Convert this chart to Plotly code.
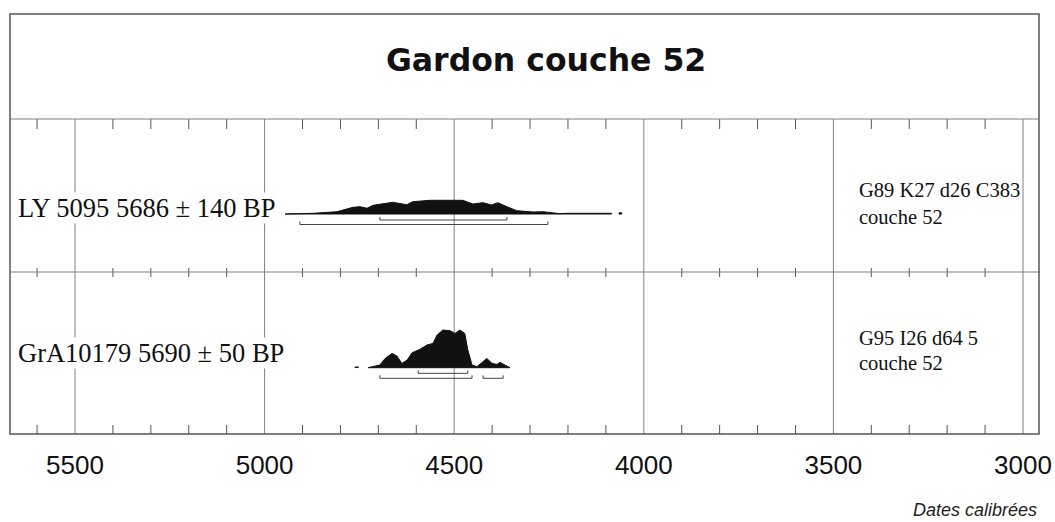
import plotly.graph_objects as go

# ---------------- data ----------------
title_text = "Gardon couche 52"
sample_labels = ["LY 5095 5686 ± 140 BP", "GrA10179 5690 ± 50 BP"]
sample_notes = [["G89 K27 d26 C383", "couche 52"], ["G95 I26 d64 5", "couche 52"]]
axis_title = "Dates calibrées"
major_ticks = [5500, 5000, 4500, 4000, 3500, 3000]
minor_ticks = [5600, 5400, 5300, 5200, 5100, 4900, 4800, 4700, 4600, 4400, 4300,
               4200, 4100, 3900, 3800, 3700, 3600, 3400, 3300, 3200, 3100]

# calibrated probability profile (cal BP, relative density)
ly_years = [4946, 4872, 4809, 4767, 4748, 4730, 4714, 4688, 4662, 4625, 4609, 4564,
            4503, 4477, 4451, 4424, 4401, 4385, 4361, 4335, 4292, 4266, 4221,
            4203, 4085]
ly_dens = [0.0, 0.7, 2.3, 6.7, 7.3, 5.7, 8.7, 10.0, 11.7, 9.3, 12.3, 13.7,
           14.0, 13.7, 10.0, 11.3, 9.0, 11.3, 7.3, 3.3, 2.0, 2.3, 0.3,
           0.7, 0.7]
ly_dot = [4066, 4058]
ly_dot_dens = [1.2, 1.2]
ly_ranges = [[4696, 4361], [4907, 4253]]

gra_dash = [4762, 4752]
gra_dash_dens = [0.6, 0.6]
gra_years = [4727, 4696, 4682, 4664, 4651, 4638, 4624, 4611, 4591, 4572, 4556, 4545,
             4530, 4511, 4498, 4485, 4472, 4464, 4453, 4440, 4424, 4414, 4400,
             4387, 4379, 4366, 4353]
gra_dens = [0.0, 2.7, 9.3, 14.3, 11.7, 4.3, 7.7, 15.0, 18.3, 22.7, 24.3, 32.7,
            37.7, 37.0, 34.3, 37.7, 34.3, 17.7, 2.7, 1.0, 6.0, 9.3, 4.3,
            3.3, 5.3, 2.7, 0.0]
gra_ranges = [[4595, 4464], [4696, 4453], [4424, 4371]]

# ---------------- layout constants ----------------
X_LEFT, X_RIGHT = 5671.4, 2957.8
Y_TOP = 420
TITLE_BOTTOM = 315
ROW_SEP = 162
ROW_BASE = [220, 66.3]
BRACKET_Y = [[214, 209.5], [60.7, 55.7, 55.7]]
BRACKET_TICK = 3
GRID = "#808080"
BORDER = "#555555"
FILL = "#111111"

fig = go.Figure()


def profile(xs, ds, base):
    px = list(xs) + list(xs)[::-1]
    py = [base + d for d in ds] + [base] * len(xs)
    return px, py


def add_fill(xs, ds, base):
    px, py = profile(xs, ds, base)
    fig.add_trace(go.Scatter(x=px, y=py, fill="toself", fillcolor=FILL, mode="lines",
                             line=dict(color=FILL, width=1), hoverinfo="skip",
                             showlegend=False))


add_fill(ly_years, ly_dens, ROW_BASE[0])
add_fill(ly_dot, ly_dot_dens, ROW_BASE[0])
add_fill(gra_dash, gra_dash_dens, ROW_BASE[1])
add_fill(gra_years, gra_dens, ROW_BASE[1])

# brackets for ranges
for ranges, ys in [(ly_ranges, BRACKET_Y[0]), (gra_ranges, BRACKET_Y[1])]:
    bx, by = [], []
    for (a, b), yv in zip(ranges, ys):
        bx += [a, a, b, b, None]
        by += [yv + BRACKET_TICK, yv, yv, yv + BRACKET_TICK, None]
    fig.add_trace(go.Scatter(x=bx, y=by, mode="lines", line=dict(color="#444444", width=1),
                             hoverinfo="skip", showlegend=False))

# minor tick marks
tx, ty = [], []
for t in minor_ticks:
    tx += [t, t, None, t, t, None, t, t, None]
    ty += [TITLE_BOTTOM, TITLE_BOTTOM - 10, None, ROW_SEP + 4, ROW_SEP - 5, None, 0, 9, None]
fig.add_trace(go.Scatter(x=tx, y=ty, mode="lines", line=dict(color=BORDER, width=1),
                         hoverinfo="skip", showlegend=False))

shapes = []
for t in major_ticks:
    shapes.append(dict(type="line", xref="x", yref="y", x0=t, x1=t, y0=0, y1=TITLE_BOTTOM,
                       line=dict(color=GRID, width=1), layer="below"))
for yv in [TITLE_BOTTOM, ROW_SEP]:
    shapes.append(dict(type="line", xref="paper", yref="y", x0=0, x1=1, y0=yv, y1=yv,
                       line=dict(color=GRID, width=1.2)))
shapes.append(dict(type="rect", xref="paper", yref="paper", x0=0, x1=1, y0=0, y1=1,
                   line=dict(color=BORDER, width=1.5)))

annotations = [
    dict(text="<b>" + title_text + "</b>", xref="paper", yref="y", x=0.521, y=374,
         showarrow=False, font=dict(family="DejaVu Sans, Arial", size=31.5, color="#111"),
         xanchor="center", yanchor="middle"),
    dict(text="<i>" + axis_title + "</i>", xref="paper", yref="paper", x=1.0, y=-0.181,
         showarrow=False, font=dict(family="Liberation Sans, Arial", size=18, color="#222"),
         xanchor="right", yanchor="middle"),
]
label_y = [226, 81]
for lab, yv in zip(sample_labels, label_y):
    annotations.append(dict(text=lab, xref="paper", yref="y", x=7 / 1029, y=yv,
                            showarrow=False, bgcolor="white", borderpad=0,
                            font=dict(family="Liberation Serif, Times New Roman", size=26.5,
                                      color="#111"),
                            xanchor="left", yanchor="middle"))
note_y = [[244, 217], [96, 71]]
for lines, ys in zip(sample_notes, note_y):
    for line, yv in zip(lines, ys):
        annotations.append(dict(text=line, xref="paper", yref="y", x=847 / 1029, y=yv,
                                showarrow=False,
                                font=dict(family="Liberation Serif, Times New Roman",
                                          size=20.5, color="#111"),
                                xanchor="left", yanchor="middle"))

fig.update_layout(
    width=1055, height=522, autosize=False,
    margin=dict(l=10, r=16, t=14, b=88, autoexpand=False),
    paper_bgcolor="white", plot_bgcolor="white",
    shapes=shapes, annotations=annotations,
    xaxis=dict(range=[X_LEFT, X_RIGHT], tickvals=major_ticks, automargin=False,
               ticktext=[str(v) for v in major_ticks],
               ticks="outside", ticklen=8, tickcolor="rgba(0,0,0,0)",
               tickfont=dict(family="Liberation Sans Narrow, Arial Narrow, Liberation Sans",
                             size=26, color="#111"),
               showgrid=False, zeroline=False, showline=False, fixedrange=True),
    yaxis=dict(range=[0, Y_TOP], showticklabels=False, showgrid=False, zeroline=False,
               showline=False, ticks="", fixedrange=True, automargin=False),
)

fig.write_html("out.html", config={"responsive": False, "displayModeBar": False},
               post_script="document.body.style.margin='0';document.body.style.overflow='hidden';")
